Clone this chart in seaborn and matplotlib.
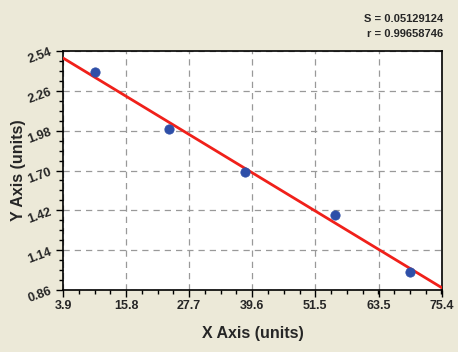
import numpy as np
import pandas as pd
import matplotlib
matplotlib.use("Agg")
import matplotlib.pyplot as plt
import seaborn as sns
from matplotlib.ticker import AutoMinorLocator

# Dados
x_vals = [10.0, 23.9, 38.2, 55.2, 69.4]
y_vals = [2.39, 1.99, 1.69, 1.39, 0.99]
x_ticks = [3.9, 15.8, 27.7, 39.6, 51.5, 63.5, 75.4]
y_ticks = [0.86, 1.14, 1.42, 1.70, 1.98, 2.26, 2.54]
stats_lines = ["S = 0.05129124", "r = 0.99658746"]

df = pd.DataFrame({"x": x_vals, "y": y_vals})

sns.set_theme(style="white")
plt.rcParams["font.family"] = ["Liberation Sans", "DejaVu Sans"]

fig = plt.figure(figsize=(4.68, 3.52), dpi=100)
fig.patch.set_facecolor("#ECE9D8")
# faixa branca na borda direita
fig.patches.append(plt.Rectangle((458 / 468, 0), 10 / 468, 1, transform=fig.transFigure,
                                 facecolor="white", edgecolor="none", zorder=0))

ax = fig.add_axes([63 / 468, 1 - 290 / 352, 379 / 468, 239 / 352])
ax.set_facecolor("white")
ax.set_xlim(x_ticks[0], x_ticks[-1])
ax.set_ylim(y_ticks[0], y_ticks[-1])

# reta de regressão ocupando toda a largura do eixo
sns.regplot(data=df, x="x", y="y", ax=ax, scatter=False, ci=None, truncate=False,
            line_kws={"color": "#F0201A", "lw": 2, "zorder": 3})
sns.scatterplot(data=df, x="x", y="y", ax=ax, color="#2E4FA8", s=45, marker="o",
                edgecolor="#2E4FA8", zorder=4)

ax.set_xticks(x_ticks)
ax.set_yticks(y_ticks)
ax.set_xticklabels([f"{v:.1f}" for v in x_ticks], fontsize=9, fontweight="bold")
ax.set_yticklabels([f"{v:.2f}" for v in y_ticks], fontsize=9, fontweight="bold", rotation=20)
ax.xaxis.set_minor_locator(AutoMinorLocator(4))
ax.yaxis.set_minor_locator(AutoMinorLocator(4))
ax.tick_params(which="major", direction="out", length=5, width=1, color="black", pad=2,
               bottom=True, left=True)
ax.tick_params(which="minor", direction="out", length=3, width=1, color="black",
               bottom=True, left=True)

ax.grid(True, which="major", color="#999999", linestyle=(0, (5, 4)), lw=0.9)
for s in ax.spines.values():
    s.set_color("black")
    s.set_linewidth(1.2)

ax.set_xlabel("X Axis (units)", fontsize=11.5, fontweight="bold")
ax.set_ylabel("Y Axis (units)", fontsize=11.5, fontweight="bold")
ax.xaxis.set_label_coords(0.5, (290 - 326) / 239)
ax.yaxis.set_label_coords((26 - 63) / 379, 0.5)

fig.text(443 / 468, 1 - 19 / 352, stats_lines[0], ha="right", va="center",
         fontsize=8, fontweight="bold")
fig.text(443 / 468, 1 - 34 / 352, stats_lines[1], ha="right", va="center",
         fontsize=8, fontweight="bold")

fig.savefig("out.png", dpi=100, facecolor=fig.get_facecolor())
